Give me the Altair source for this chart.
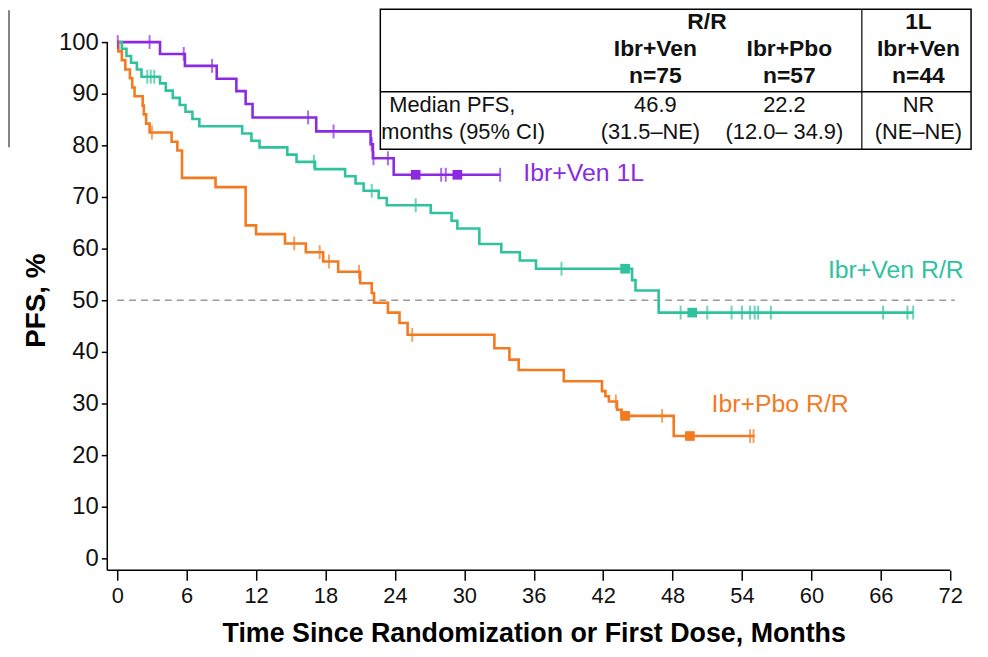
import altair as alt
import pandas as pd

# ---------------- data ----------------
series_names = ["Ibr+Ven 1L", "Ibr+Ven R/R", "Ibr+Pbo R/R"]
series_colors = ["#8a2be2", "#2fc29e", "#f47a1f"]

# Ibr+Ven 1L (n=44)
t_1l = [0, 3.7, 5.85, 8.6, 10.3, 11.1, 11.7, 17.2, 21.9, 22.1, 23.9]
s_1l = [100, 97.7, 95.4, 92.9, 90.5, 88.0, 85.4, 82.7, 80.2, 77.5, 74.3]
end_1l = 33.1
cens_1l = [0.05, 2.8, 5.75, 8.2, 16.5, 18.7, 22.0, 22.15, 23.4, 28.0, 28.4, 33.1]
sq_1l = [25.8, 29.4]

# Ibr+Ven R/R (n=75)
t_vr = [0, 0.4, 0.8, 1.2, 1.7, 2.1, 3.7, 4.2, 4.8, 5.4, 5.9, 6.5, 7.1, 10.8, 11.6,
        12.3, 14.7, 15.5, 17.1, 19.7, 20.6, 21.3, 22.6, 23.3, 27.1, 28.9, 29.4,
        31.3, 33.2, 34.8, 36.2, 44.5, 44.8, 46.8]
s_vr = [100, 98.7, 97.3, 96.0, 94.7, 93.3, 92.0, 90.6, 89.2, 87.8, 86.5, 85.1, 83.7,
        82.3, 80.9, 79.6, 78.2, 76.8, 75.4, 74.0, 72.6, 71.2, 69.8, 68.4, 66.9,
        65.4, 63.9, 60.9, 59.3, 57.7, 56.1, 53.9, 51.9, 47.6]
end_vr = 68.8
cens_vr = [2.6, 2.9, 3.2, 17.0, 22.0, 25.8, 38.4, 48.7, 51.0, 53.1, 54.0, 54.7,
           55.1, 55.4, 56.5, 66.2, 68.3, 68.8]
sq_vr = [43.9, 49.7]

# Ibr+Pbo R/R (n=57)
t_pr = [0, 0.1, 0.4, 0.7, 1.1, 1.3, 1.5, 2.2, 2.3, 2.5, 2.8, 4.7, 5.2, 5.6, 8.5,
        11.1, 12.0, 14.5, 16.3, 17.8, 19.1, 21.0, 22.0, 22.2, 23.4, 24.4, 25.1,
        32.6, 33.9, 34.7, 38.6, 41.9, 42.2, 42.5, 43.2, 43.6, 48.1]
s_pr = [100, 98.2, 96.5, 94.7, 93.0, 91.2, 89.5, 87.7, 86.0, 84.2, 82.5, 80.7,
        79.0, 73.7, 71.9, 64.5, 62.8, 61.0, 59.3, 57.5, 55.5, 53.3, 51.4, 49.5,
        47.6, 45.6, 43.3, 40.7, 38.5, 36.5, 34.3, 32.4, 31.4, 30.4, 28.8, 27.6, 23.7]
end_pr = 55.1
cens_pr = [3.0, 15.3, 17.5, 18.3, 20.9, 25.5, 43.1, 47.1, 54.7, 55.0]
sq_pr = [43.9, 49.5]

x_ticks = list(range(0, 73, 6))
y_ticks = list(range(0, 101, 10))
median_line = 50

label_x = [35.1, 67.3, 57.3]
label_y = [74.6, 55.8, 29.8]

# ---------------- build tables ----------------
def surv_at(times, vals, t):
    v = vals[0]
    for ti, vi in zip(times, vals):
        if ti <= t:
            v = vi
    return v

curves = [(t_1l, s_1l, end_1l, cens_1l, sq_1l),
          (t_vr, s_vr, end_vr, cens_vr, sq_vr),
          (t_pr, s_pr, end_pr, cens_pr, sq_pr)]

line_rows, tick_rows, sq_rows = [], [], []
for name, (ts, ss, end, cens, sqs) in zip(series_names, curves):
    for i, (t, s) in enumerate(zip(ts + [end], ss + [ss[-1]])):
        line_rows.append({"series": name, "t": t, "s": s, "o": i})
    for c in cens:
        tick_rows.append({"series": name, "t": c, "s": surv_at(ts, ss, c)})
    for c in sqs:
        sq_rows.append({"series": name, "t": c, "s": surv_at(ts, ss, c)})

lines_df = pd.DataFrame(line_rows)
ticks_df = pd.DataFrame(tick_rows)
sq_df = pd.DataFrame(sq_rows)
labels_df = pd.DataFrame({"series": series_names, "t": label_x, "s": label_y})

color = alt.Color("series:N", scale=alt.Scale(domain=series_names, range=series_colors), legend=None)
xs = alt.Scale(domain=[0, 72], nice=False, zero=False)
ys = alt.Scale(domain=[0, 100], nice=False)

FONT = "Liberation Sans"
W, H = 839, 520

base_x = alt.X("t:Q", scale=xs,
               axis=alt.Axis(values=x_ticks, title="Time Since Randomization or First Dose, Months",
                             offset=12, tickSize=10, labelFontSize=22, labelFont=FONT,
                             titleFontSize=27, titleFontWeight="bold", titlePadding=15, titleFont=FONT,
                             labelPadding=5, grid=False, domain=False, tickColor="black",
                             labelColor="#111", titleColor="black", tickWidth=1.5,
                             labelFlush=False))
base_y = alt.Y("s:Q", scale=ys,
               axis=alt.Axis(values=y_ticks, title="PFS, %", offset=10, tickSize=6,
                             labelFontSize=24, labelFont=FONT, titleFontSize=28, titleFontWeight="bold",
                             titleFont=FONT, titlePadding=8, grid=False, domain=False, tickColor="black",
                             labelColor="#111", titleColor="black", tickWidth=1.5,
                             labelPadding=3))

one = pd.DataFrame({"a": [0]})

ref = alt.Chart(pd.DataFrame({"y": [median_line], "x1": [0], "x2": [72.4]})).mark_rule(
    color="#9a9a9a", strokeDash=[7, 5], strokeWidth=1.5
).encode(x=alt.X("x1:Q", scale=xs), x2="x2:Q", y=alt.Y("y:Q", scale=ys))

lines = alt.Chart(lines_df).mark_line(interpolate="step-after", strokeWidth=2.6).encode(
    x=base_x, y=base_y, color=color, order="o:Q", detail="series:N")

ticks = alt.Chart(ticks_df).mark_tick(orient="vertical", size=14, thickness=2).encode(
    x=alt.X("t:Q", scale=xs), y=alt.Y("s:Q", scale=ys), color=color)

squares = alt.Chart(sq_df).mark_square(size=95, opacity=1).encode(
    x=alt.X("t:Q", scale=xs), y=alt.Y("s:Q", scale=ys), color=color)

lab_1l = alt.Chart(labels_df.iloc[[0]]).mark_text(align="left", baseline="middle", fontSize=25, font=FONT).encode(
    x=alt.X("t:Q", scale=xs), y=alt.Y("s:Q", scale=ys), text="series:N", color=color)
lab_rr = alt.Chart(labels_df.iloc[[1, 2]]).mark_text(align="center", baseline="middle", fontSize=25, font=FONT).encode(
    x=alt.X("t:Q", scale=xs), y=alt.Y("s:Q", scale=ys), text="series:N", color=color)

# axis lines that meet at the lower-left corner, as in the original
y_axis_line = alt.Chart(one).mark_rule(color="black", strokeWidth=1.5).encode(
    x=alt.value(-10), y=alt.value(0), y2=alt.value(H + 12))
x_axis_line = alt.Chart(one).mark_rule(color="black", strokeWidth=1.5).encode(
    x=alt.value(-10), x2=alt.value(W), y=alt.value(H + 12))

# ---------------- table annotation (pixel positions in plot coordinates) ----------------
TL, TR, TT, TB = 265, 860, -33, 108
box = alt.Chart(one).mark_rect(fill="white", stroke="black", strokeWidth=1.5).encode(
    x=alt.value(TL), x2=alt.value(TR), y=alt.value(TT), y2=alt.value(TB))
vline = alt.Chart(one).mark_rule(color="black", strokeWidth=1.2).encode(
    x=alt.value(750), y=alt.value(TT), y2=alt.value(TB))
hline = alt.Chart(one).mark_rule(color="black", strokeWidth=1.5).encode(
    x=alt.value(TL), x2=alt.value(TR), y=alt.value(50))
edge = alt.Chart(one).mark_rule(color="#333", strokeWidth=1.2).encode(
    x=alt.value(-109), y=alt.value(-32), y2=alt.value(106))

table_cells = [
    ("R/R", 594, -20, "bold", "center", 23),
    ("1L", 807, -20, "bold", "center", 23),
    ("Ibr+Ven", 542, 7, "bold", "center", 23),
    ("Ibr+Pbo", 677, 7, "bold", "center", 23),
    ("Ibr+Ven", 807, 7, "bold", "center", 23),
    ("n=75", 542, 34, "bold", "center", 23),
    ("n=57", 677, 34, "bold", "center", 23),
    ("n=44", 807, 34, "bold", "center", 23),
    ("Median PFS,", 274, 63, "normal", "left", 22),
    ("months (95% CI)", 266, 91, "normal", "left", 22),
    ("46.9", 542, 63, "normal", "center", 22),
    ("22.2", 672, 63, "normal", "center", 22),
    ("NR", 807, 63, "normal", "center", 22),
    ("(31.5–NE)", 537, 91, "normal", "center", 22),
    ("(12.0– 34.9)", 672, 91, "normal", "center", 22),
    ("(NE–NE)", 807, 91, "normal", "center", 22),
]
texts = []
for txt, px, py, fw, al, fs in table_cells:
    texts.append(alt.Chart(one).mark_text(
        text=txt, fontSize=fs, font=FONT, fontWeight=fw, align=al, baseline="middle", color="#111"
    ).encode(x=alt.value(px), y=alt.value(py)))

chart = alt.layer(ref, lines, ticks, squares, lab_1l, lab_rr, y_axis_line, x_axis_line,
                  box, vline, hline, edge, *texts).properties(
    width=W, height=H,
    padding={"left": 110, "top": 32, "right": 30, "bottom": 96},
    autosize=alt.AutoSizeParams(type="none"),
).configure(font=FONT, view=alt.ViewConfig(stroke=None))

chart.save("out.html", embed_options={"renderer": "svg", "actions": False})
